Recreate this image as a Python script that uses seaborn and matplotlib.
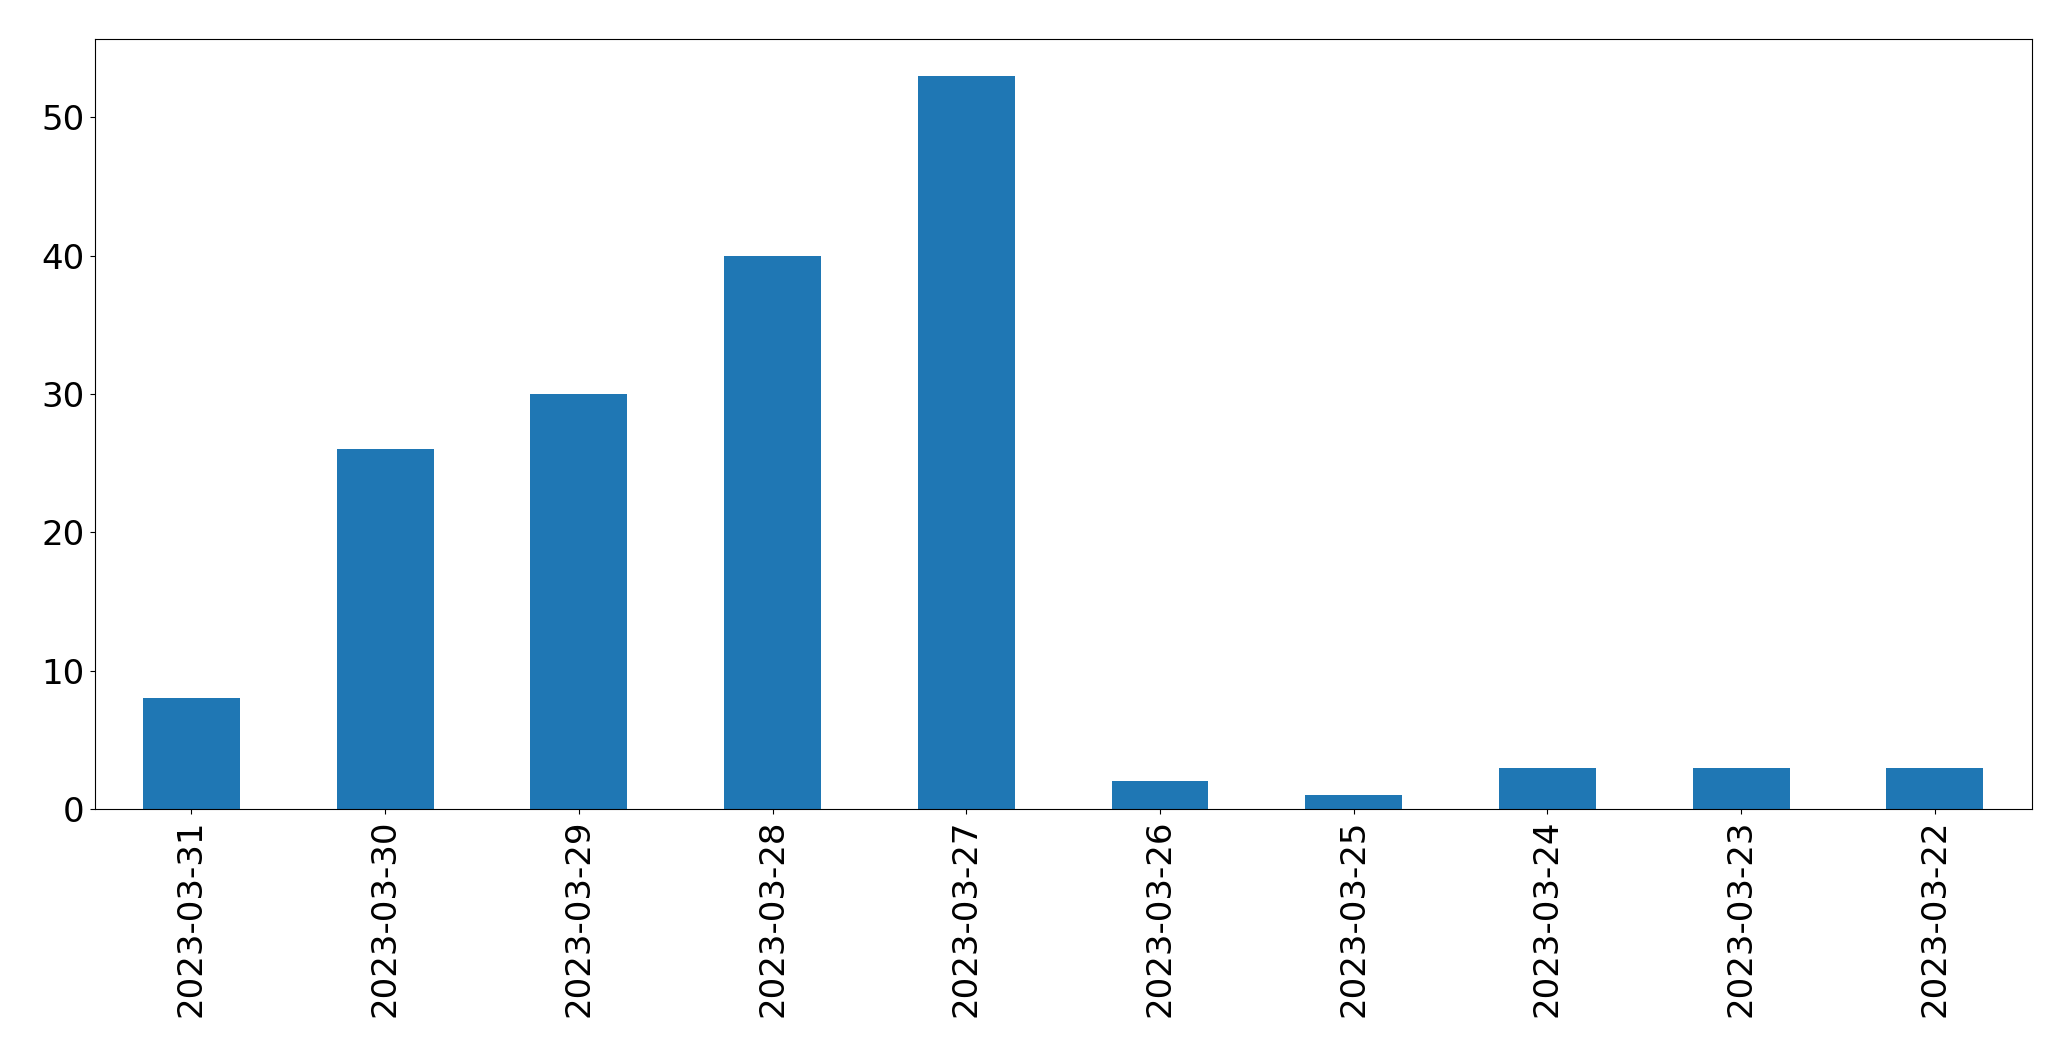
import matplotlib
matplotlib.use('Agg')
import matplotlib.pyplot as plt
import seaborn as sns
import pandas as pd

# data
dates = ['2023-03-31', '2023-03-30', '2023-03-29', '2023-03-28', '2023-03-27',
         '2023-03-26', '2023-03-25', '2023-03-24', '2023-03-23', '2023-03-22']
counts = [8, 26, 30, 40, 53, 2, 1, 3, 3, 3]

df = pd.DataFrame({'date': dates, 'count': counts})

plt.rcParams['xtick.major.size'] = 3.8
plt.rcParams['ytick.major.size'] = 3.8

fig, ax = plt.subplots(figsize=(20.71, 10.61), dpi=100)
sns.barplot(x='date', y='count', data=df, order=dates, color='#1f77b4',
            saturation=1, width=0.5, ax=ax)

ax.set_xlim(-0.5, len(dates) - 0.5)
ax.set_xlabel('')
ax.set_ylabel('')
ax.tick_params(axis='both', labelsize=24.5)
plt.xticks(rotation=90)

fig.subplots_adjust(left=0.0457, right=0.981, top=0.963, bottom=0.2375)
plt.savefig('out.png', dpi=100)
